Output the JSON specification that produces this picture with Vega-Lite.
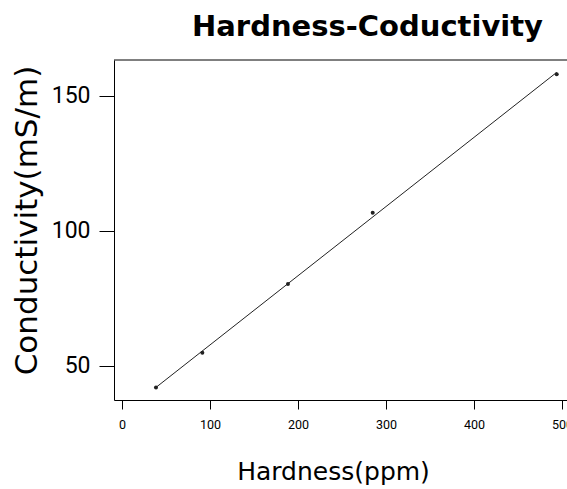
{
  "$schema": "https://vega.github.io/schema/vega-lite/v6.json",
  "width": 453,
  "height": 340,
  "autosize": {"type": "none"},
  "padding": {"left": 114, "top": 60, "right": 0, "bottom": 89},
  "background": "white",
  "config": {"view": {"stroke": null}},
  "title": {
    "text": "Hardness-Coductivity",
    "font": "DejaVu Sans",
    "fontSize": 29,
    "fontWeight": "bold",
    "color": "black",
    "anchor": "middle",
    "frame": "group",
    "dx": 27,
    "dy": 28,
    "offset": 23,
    "baseline": "alphabetic"
  },
  "data": {
    "values": [
      {"hardness": 38.6, "conductivity": 42.0},
      {"hardness": 91.3, "conductivity": 54.9},
      {"hardness": 188.6, "conductivity": 80.4},
      {"hardness": 284.9, "conductivity": 106.7},
      {"hardness": 494.0, "conductivity": 158.0}
    ]
  },
  "layer": [
    {
      "mark": {"type": "point", "filled": true, "size": 16, "color": "#222222", "opacity": 1},
      "encoding": {
        "x": {
          "field": "hardness",
          "type": "quantitative",
          "scale": {"domain": [-9.1, 505.7], "nice": false, "zero": false},
          "axis": {
            "values": [0, 100, 200, 300, 400, 500],
            "tickSize": 9,
            "tickColor": "black",
            "domainColor": "black",
            "labelFont": "Roboto",
            "labelFontSize": 12.5,
            "labelColor": "black",
            "labelPadding": 9,
            "labelBaseline": "top",
            "labelFlush": false,
            "labelOverlap": false,
            "grid": false,
            "title": "Hardness(ppm)",
            "titleFont": "DejaVu Sans",
            "titleFontSize": 25,
            "titleFontWeight": "normal",
            "titleColor": "black",
            "titleX": 219,
            "titleY": 79,
            "titleAlign": "center",
            "titleBaseline": "alphabetic"
          }
        },
        "y": {
          "field": "conductivity",
          "type": "quantitative",
          "scale": {"domain": [37.4, 163.3], "nice": false, "zero": false},
          "axis": {
            "values": [50, 100, 150],
            "tickSize": 15,
            "tickColor": "black",
            "domainColor": "black",
            "labelFont": "Roboto",
            "labelFontSize": 23,
            "labelColor": "black",
            "labelPadding": 9,
            "labelBaseline": "middle",
            "labelFlush": false,
            "labelOverlap": false,
            "grid": false,
            "title": "Conductivity(mS/m)",
            "titleFont": "DejaVu Sans",
            "titleFontSize": 31,
            "titleFontWeight": "normal",
            "titleColor": "black",
            "titleAngle": -90,
            "titleX": -78,
            "titleY": 160,
            "titleAlign": "center",
            "titleBaseline": "alphabetic"
          }
        }
      }
    },
    {
      "transform": [{"regression": "conductivity", "on": "hardness"}],
      "mark": {"type": "line", "color": "#222222", "strokeWidth": 1},
      "encoding": {
        "x": {"field": "hardness", "type": "quantitative"},
        "y": {"field": "conductivity", "type": "quantitative"}
      }
    },
    {
      "data": {"values": [{"top": 163.3}]},
      "mark": {"type": "rule", "color": "black", "strokeWidth": 1},
      "encoding": {
        "y": {"field": "top", "type": "quantitative"}
      }
    }
  ]
}
